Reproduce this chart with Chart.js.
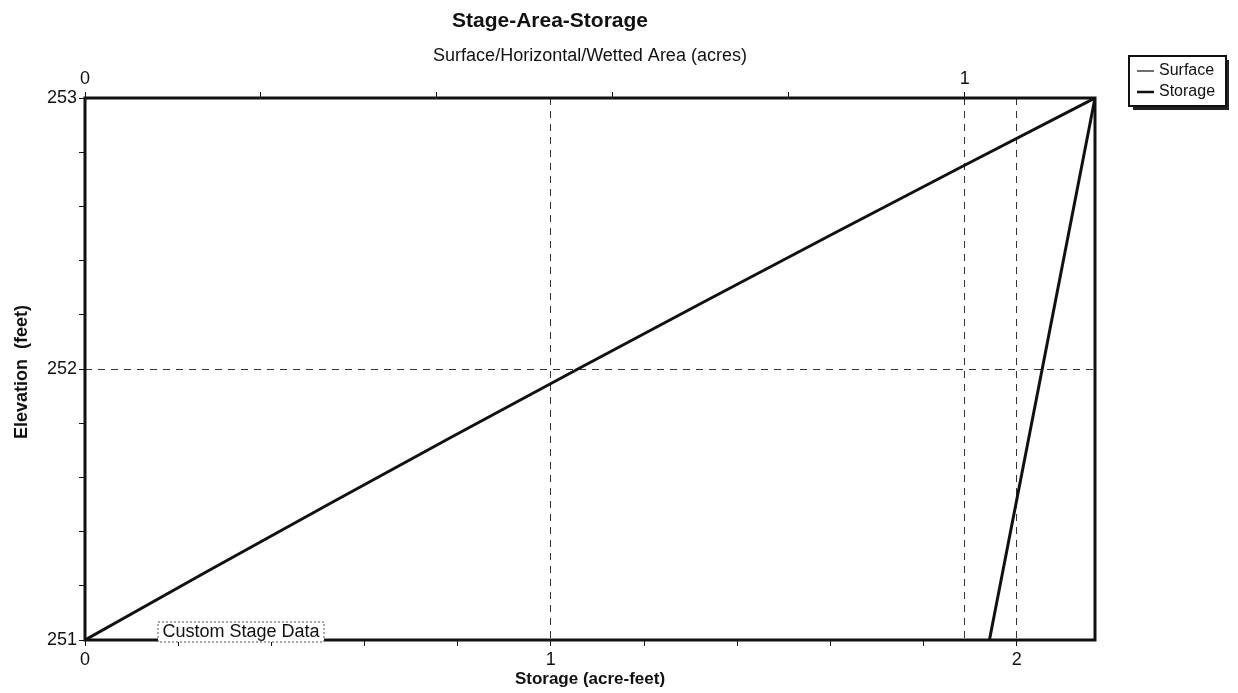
<!DOCTYPE html>
<html>
<head>
<meta charset="utf-8">
<script src="https://cdn.jsdelivr.net/npm/chart.js@4"></script>
<style>
  html, body { margin: 0; padding: 0; background: #fff; }
  canvas { display: block; }
</style>
</head>
<body>
<canvas id="sasChart" width="1238" height="693"></canvas>
<script>
// values
const elevation = [251, 251.25, 251.5, 251.75, 252, 252.25, 252.5, 252.75, 253];
const surfaceArea = [1.028, 1.043, 1.058, 1.073, 1.088, 1.103, 1.118, 1.133, 1.148]; // acres
const storage = [0, 0.259, 0.522, 0.788, 1.058, 1.331, 1.607, 1.886, 2.168]; // acre-feet
const elevTicks = [251, 252, 253];
const storageTicks = [0, 1, 2];
const areaTicks = [0, 1];

const FONT = 'Liberation Sans, Arial, sans-serif';
const ink = '#111';

const onlyLabels = (list) => (v) => list.includes(Math.round(v * 1000) / 1000) ? String(v) : '';
const dashedAt = (list) => (c) => (c.tick && list.includes(c.tick.value) && c.tick.value !== 0 && c.tick.value !== 251) ? '#333' : 'rgba(0,0,0,0)';
const keepFifths = (s) => { s.ticks = s.ticks.filter(t => Math.abs(t.value * 5 - Math.round(t.value * 5)) < 1e-6); };

const decor = {
  id: 'decor',
  afterDraw(chart) {
    const { ctx, chartArea: a } = chart;
    ctx.save();
    // plot box
    ctx.strokeStyle = ink;
    ctx.lineWidth = 3;
    ctx.strokeRect(a.left, a.top, a.right - a.left, a.bottom - a.top);

    ctx.fillStyle = ink;
    ctx.textAlign = 'center';
    ctx.textBaseline = 'middle';
    ctx.font = 'bold 21px ' + FONT;
    ctx.fillText('Stage-Area-Storage', 550, 21);
    ctx.font = '18px ' + FONT;
    ctx.fillText('Surface/Horizontal/Wetted Area (acres)', 590, 56);
    ctx.font = 'bold 17px ' + FONT;
    ctx.fillText('Storage (acre-feet)', 590, 679);
    ctx.save();
    ctx.translate(22, 372);
    ctx.rotate(-Math.PI / 2);
    ctx.font = 'bold 18px ' + FONT;
    ctx.fillText('Elevation  (feet)', 0, 0);
    ctx.restore();

    // custom stage data label
    ctx.font = '18px ' + FONT;
    ctx.fillStyle = '#fff';
    ctx.fillRect(158, 622, 166, 20);
    ctx.setLineDash([2, 2]);
    ctx.lineWidth = 1;
    ctx.strokeStyle = '#555';
    ctx.strokeRect(158, 622, 166, 20);
    ctx.setLineDash([]);
    ctx.fillStyle = ink;
    ctx.fillText('Custom Stage Data', 241, 632);

    // legend
    ctx.fillStyle = '#222';
    ctx.fillRect(1133, 60, 96, 50);
    ctx.fillStyle = '#fff';
    ctx.fillRect(1129, 56, 97, 50);
    ctx.strokeStyle = ink;
    ctx.lineWidth = 2;
    ctx.strokeRect(1129, 56, 97, 50);
    ctx.textAlign = 'left';
    ctx.font = '16px ' + FONT;
    ctx.fillStyle = ink;
    ctx.lineWidth = 1.2;
    ctx.beginPath(); ctx.moveTo(1137, 71); ctx.lineTo(1154, 71); ctx.stroke();
    ctx.lineWidth = 2.5;
    ctx.beginPath(); ctx.moveTo(1137, 92); ctx.lineTo(1154, 92); ctx.stroke();
    ctx.fillText('Surface', 1159, 71);
    ctx.fillText('Storage', 1159, 92);
    ctx.restore();
  }
};

const toPoints = (xs) => xs.map((x, i) => ({ x: x, y: elevation[i] }));

new Chart(document.getElementById('sasChart'), {
  type: 'line',
  data: {
    datasets: [{
      label: 'Surface',
      data: toPoints(surfaceArea),
      xAxisID: 'x2',
      borderColor: ink,
      borderWidth: 3,
      pointRadius: 0,
      tension: 0
    }, {
      label: 'Storage',
      data: toPoints(storage),
      xAxisID: 'x',
      borderColor: ink,
      borderWidth: 3,
      pointRadius: 0,
      tension: 0
    }]
  },
  options: {
    responsive: false,
    animation: false,
    layout: { padding: { left: 0, right: 143, top: 0, bottom: 0 } },
    plugins: { legend: { display: false }, title: { display: false }, tooltip: { enabled: false } },
    scales: {
      x: {
        type: 'linear', position: 'bottom', min: 0, max: storage[storage.length - 1],
        afterFit(s) { s.height = 53; },
        afterBuildTicks: keepFifths,
        ticks: { stepSize: 0.2, includeBounds: false, autoSkip: false, maxRotation: 0, color: ink, font: { family: FONT, size: 18 }, padding: 3, callback: onlyLabels(storageTicks) },
        grid: { color: dashedAt(storageTicks), tickColor: ink, tickLength: 6, lineWidth: 1 },
        border: { display: false, dash: [7, 6] }
      },
      x2: {
        type: 'linear', position: 'top', min: 0, max: surfaceArea[surfaceArea.length - 1],
        afterFit(s) { s.height = 98; },
        afterBuildTicks: keepFifths,
        ticks: { stepSize: 0.2, includeBounds: false, autoSkip: false, maxRotation: 0, color: ink, font: { family: FONT, size: 18 }, padding: 2, callback: onlyLabels(areaTicks) },
        grid: { color: dashedAt(areaTicks), tickColor: ink, tickLength: 6, lineWidth: 1 },
        border: { display: false, dash: [7, 6] }
      },
      y: {
        type: 'linear', min: 251, max: 253,
        afterFit(s) { s.width = 85; },
        afterBuildTicks: keepFifths,
        ticks: { stepSize: 0.2, includeBounds: false, autoSkip: false, color: ink, font: { family: FONT, size: 18 }, padding: 2, callback: onlyLabels(elevTicks) },
        grid: { color: dashedAt(elevTicks), tickColor: ink, tickLength: 6, lineWidth: 1 },
        border: { display: false, dash: [7, 6] }
      }
    }
  },
  plugins: [decor]
});
</script>
</body>
</html>
